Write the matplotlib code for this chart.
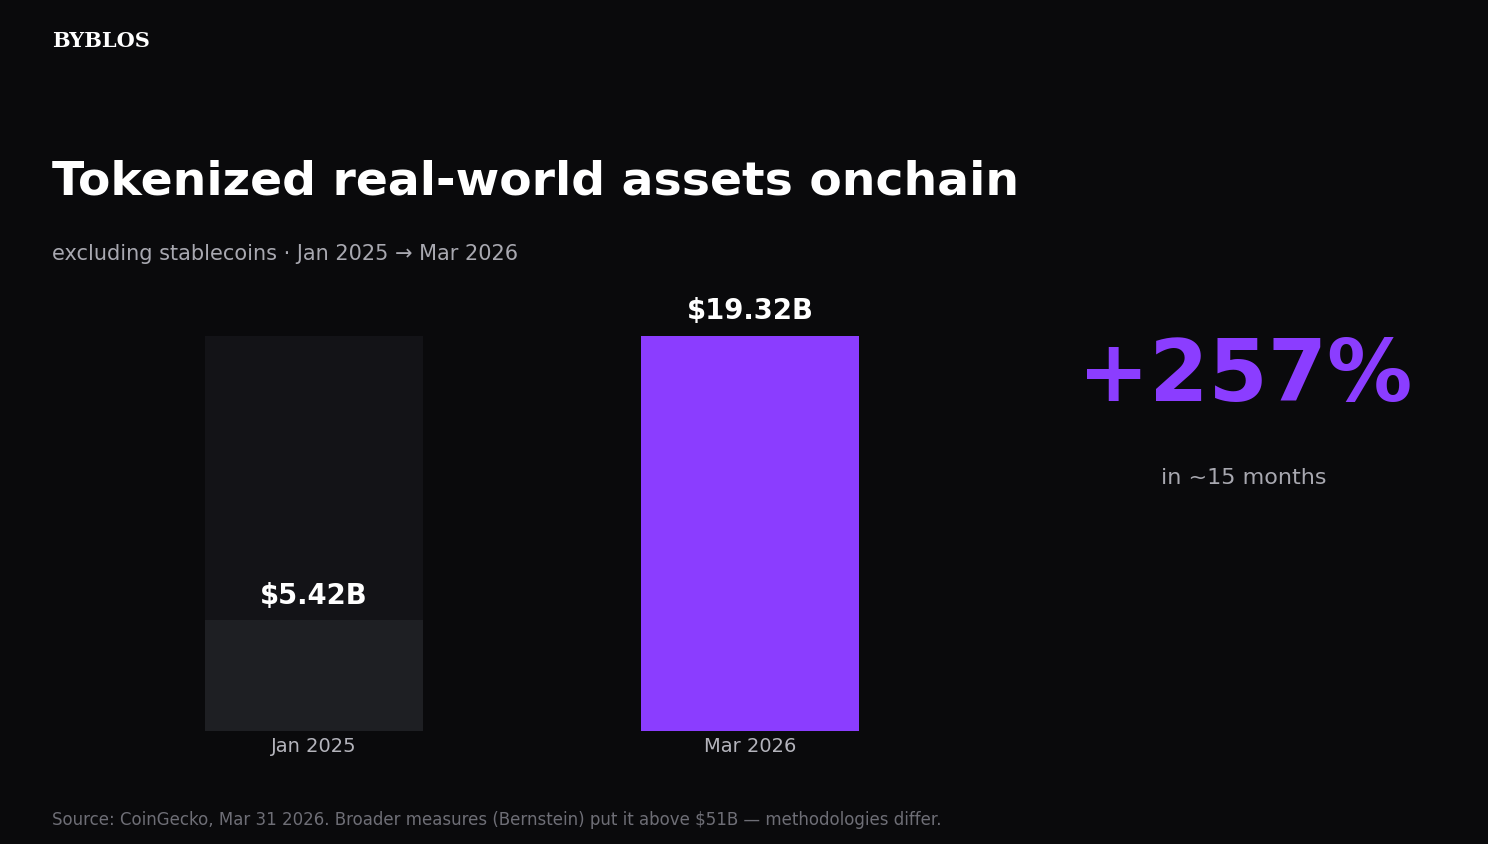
import matplotlib
matplotlib.use("Agg")
import matplotlib.pyplot as plt

# data
dates = ["Jan 2025", "Mar 2026"]
values = [5.42, 19.32]      # $B, excluding stablecoins
labels = ["$5.42B", "$19.32B"]
growth = "+257%"
period = "in ~15 months"

bg = "#0a0a0c"
purple = "#8b3dff"

fig = plt.figure(figsize=(14.88, 8.44), dpi=100, facecolor=bg)

# axes placed in pixels: bars bottom y=731, top of big bar y=336
W, H = 1488, 844
ax = fig.add_axes([96 / W, (H - 731) / H, 872 / W, 395 / H])
ax.set_facecolor(bg)
x = [0, 1]
vmax = max(values)
# ghost bar behind the small one
ax.bar(x[0], vmax, width=0.5, color="#131317", zorder=1)
ax.bar(x, values, width=0.5, color=["#1e1f23", purple], zorder=2)
for xi, v, lab in zip(x, values, labels):
    ax.text(xi, v + vmax * 0.027, lab, ha="center", va="bottom",
            color="white", fontsize=19.8, fontweight="bold")
ax.set_xlim(-0.5, 1.5)
ax.set_ylim(0, vmax)
ax.set_xticks(x)
ax.set_xticklabels(dates, color="#b4b4bc", fontsize=14)
ax.tick_params(axis="x", length=0, pad=4)
ax.set_yticks([])
for s in ax.spines.values():
    s.set_visible(False)

fig.text(52 / W, 1 - 41 / H, "BYBLOS", color="white", fontsize=15,
         fontweight="bold", family="DejaVu Serif", va="center")
fig.text(52 / W, 1 - 182 / H, "Tokenized real-world assets onchain",
         color="white", fontsize=34, fontweight="bold", va="center")
fig.text(52 / W, 1 - 254 / H, "excluding stablecoins · Jan 2025 → Mar 2026",
         color="#a8a8b0", fontsize=15, va="center")
fig.text(1245 / W, 1 - 378 / H, growth, color=purple, fontsize=61.3,
         fontweight="bold", ha="center", va="center")
fig.text(1244 / W, 1 - 478 / H, period, color="#a8a8b0", fontsize=16,
         ha="center", va="center")
fig.text(52 / W, 1 - 820 / H,
         "Source: CoinGecko, Mar 31 2026. Broader measures (Bernstein) put it above $51B — methodologies differ.",
         color="#6e6e76", fontsize=12, va="center")

fig.savefig("out.png", dpi=100, facecolor=bg)
